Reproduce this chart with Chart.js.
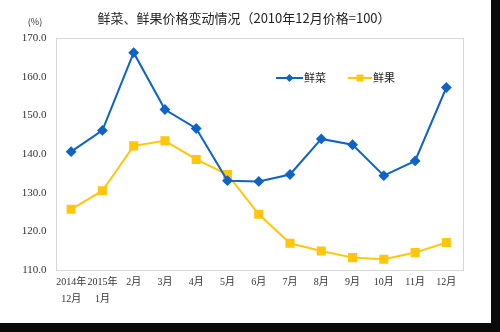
<!DOCTYPE html>
<html>
<head>
<meta charset="utf-8">
<script src="https://cdn.jsdelivr.net/npm/chart.js@4"></script>
<style>
  html, body { margin: 0; padding: 0; background: #0a0a0a; }
  #wrap { width: 491px; height: 323px; background: #fff; }
  canvas { display: block; }
</style>
</head>
<body>
<div id="wrap"><canvas id="c" width="491" height="323"></canvas></div>
<script>
'use strict';

// ─── Data ────────────────────────────────────────────────────────────────────
const MONTHS = [
  ['2014年', '12月'], ['2015年', '1月'], '2月', '3月', '4月', '5月', '6月',
  '7月', '8月', '9月', '10月', '11月', '12月',
];
const VEG   = [140.6, 146.1, 166.2, 151.5, 146.6, 133.1, 132.9, 134.7, 143.9, 142.4, 134.4, 138.2, 157.2];
const FRUIT = [125.7, 130.5, 142.1, 143.4, 138.6, 134.7, 124.4, 116.9, 114.9, 113.2, 112.8, 114.5, 117.1];
const Y_MIN = 110, Y_MAX = 170, Y_STEP = 10;

const TITLE = '鲜菜、鲜果价格变动情况（2010年12月价格=100）';
const UNIT  = '(%)';

const BLUE   = '#0f63c6';
const YELLOW = '#ffc60b';
const FONT   = "'Liberation Serif', 'Noto Sans CJK SC', serif";
const CJK    = "'Noto Sans CJK SC', sans-serif";

// ─── Extras: title, unit, frame, in-plot legend ─────────────────────────────
const extras = {
  id: 'extras',
  afterDraw(chart) {
    const { ctx, chartArea: a } = chart;
    ctx.save();

    ctx.strokeStyle = '#d6d6d6'; ctx.lineWidth = 1;
    ctx.strokeRect(Math.round(a.left) + 0.5, Math.round(a.top) + 0.5,
                   Math.round(a.right - a.left), Math.round(a.bottom - a.top));

    ctx.fillStyle = '#222'; ctx.font = `13px ${CJK}`;
    ctx.textAlign = 'center'; ctx.textBaseline = 'middle';
    ctx.fillText(TITLE, 244, 18);

    ctx.fillStyle = '#333'; ctx.font = `9px ${CJK}`;
    ctx.fillText(UNIT, 35, 22);

    const items = [
      { x0: 276, x1: 303, text: '鲜菜', color: BLUE, shape: 'diamond' },
      { x0: 348, x1: 372, text: '鲜果', color: YELLOW, shape: 'square' },
    ];
    const y = 78;
    items.forEach(it => {
      ctx.strokeStyle = it.color; ctx.lineWidth = 2;
      ctx.beginPath(); ctx.moveTo(it.x0, y); ctx.lineTo(it.x1, y); ctx.stroke();
      const cx = (it.x0 + it.x1) / 2;
      ctx.fillStyle = it.color;
      ctx.beginPath();
      if (it.shape === 'diamond') {
        ctx.moveTo(cx, y - 4); ctx.lineTo(cx + 4, y); ctx.lineTo(cx, y + 4); ctx.lineTo(cx - 4, y);
      } else {
        ctx.rect(cx - 3.5, y - 3.5, 7, 7);
      }
      ctx.closePath(); ctx.fill();
      ctx.fillStyle = '#222'; ctx.font = `11px ${CJK}`;
      ctx.textAlign = 'left';
      ctx.fillText(it.text, it.x1 + 1, y);
    });

    ctx.restore();
  },
};

// ─── Chart ───────────────────────────────────────────────────────────────────
new Chart(document.getElementById('c'), {
  type: 'line',
  data: {
    labels: MONTHS,
    datasets: [
      {
        label: '鲜菜', data: VEG,
        borderColor: BLUE, backgroundColor: BLUE, borderWidth: 2,
        pointStyle: 'rectRot', pointRadius: 4, pointHoverRadius: 4,
        tension: 0, clip: false,
      },
      {
        label: '鲜果', data: FRUIT,
        borderColor: YELLOW, backgroundColor: YELLOW, borderWidth: 2,
        pointStyle: 'rect', pointRadius: 5, pointHoverRadius: 5,
        tension: 0, clip: false,
      },
    ],
  },
  options: {
    responsive: false,
    animation: false,
    devicePixelRatio: 1,
    layout: { padding: { top: 38, right: 29, left: 0, bottom: 0 } },
    plugins: { legend: { display: false }, title: { display: false }, tooltip: { enabled: false } },
    scales: {
      x: {
        type: 'category',
        offset: true,
        grid: { display: false, drawTicks: false },
        border: { display: false },
        ticks: {
          color: '#333', font: { family: FONT, size: 10, lineHeight: 1.7 },
          maxRotation: 0, minRotation: 0, autoSkip: false, padding: 4,
        },
        afterFit: s => { s.height = 53; },
      },
      y: {
        min: Y_MIN, max: Y_MAX,
        grid: { display: false, drawTicks: false },
        border: { display: false },
        ticks: {
          stepSize: Y_STEP, color: '#333', padding: 9,
          font: { family: FONT, size: 11 },
          callback: v => Number(v).toFixed(1),
        },
        afterFit: s => { s.width = 55.5; },
      },
    },
  },
  plugins: [extras],
});
</script>
</body>
</html>
